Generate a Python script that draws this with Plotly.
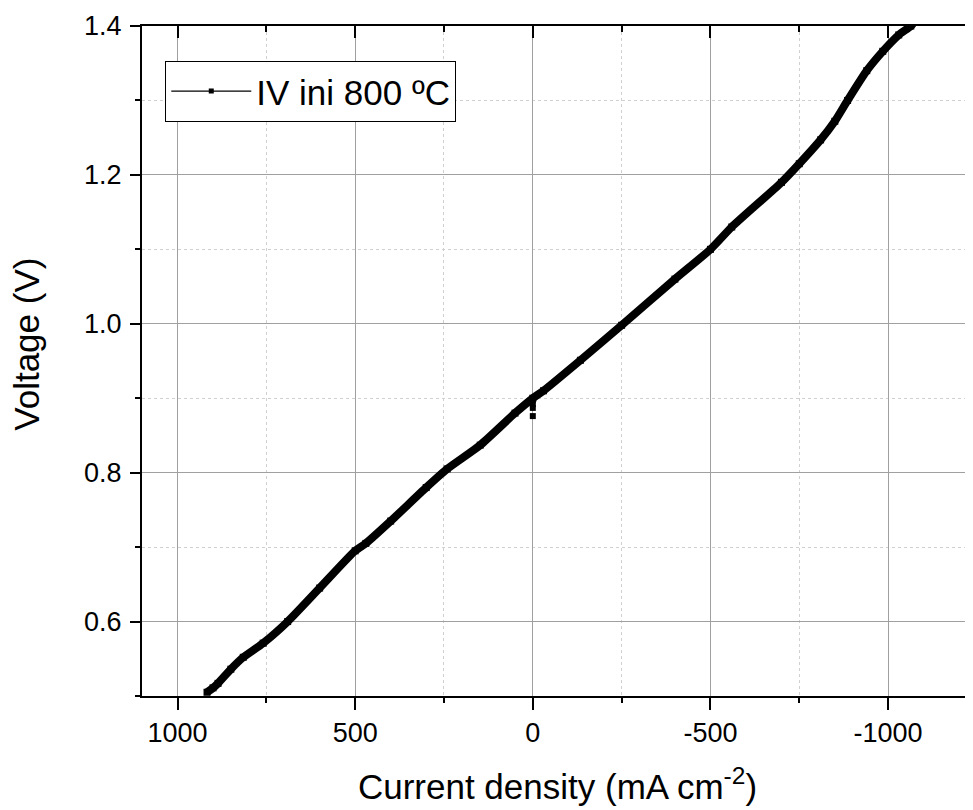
import plotly.graph_objects as go

# Current density (mA cm-2) and voltage (V)
current_density = [917, 900, 886, 850, 815, 759, 690, 600, 500, 470, 400, 300, 241,
                   148, 50, 0, -30, -134, -250, -400, -500, -560, -700, -750, -810,
                   -850, -886, -940, -985, -1030, -1064, -1085]
voltage = [0.505, 0.511, 0.517, 0.536, 0.552, 0.571, 0.600, 0.645, 0.695, 0.705,
           0.735, 0.780, 0.805, 0.837, 0.880, 0.900, 0.910, 0.951, 0.998, 1.060,
           1.100, 1.130, 1.190, 1.215, 1.247, 1.272, 1.300, 1.340, 1.366, 1.388,
           1.400, 1.412]

# open-circuit points recorded at zero current
ocv_current = [0, 0, 0, 0]
ocv_voltage = [0.897, 0.892, 0.887, 0.876]

series_name = "IV ini 800 ºC"
x_title = "Current density (mA cm<sup>-2</sup>)"
y_title = "Voltage (V)"
x_ticks = [1000, 500, 0, -500, -1000]
y_ticks = [0.6, 0.8, 1.0, 1.2, 1.4]

FONT = "Arial, Liberation Sans, sans-serif"
X_RANGE = [1100, -1239]
Y_RANGE = [0.5, 1.4]

fig = go.Figure()
fig.add_trace(go.Scatter(
    x=current_density, y=voltage, mode="lines+markers",
    line=dict(color="black", width=8, shape="spline", smoothing=0.6),
    marker=dict(symbol="square", size=7, color="black"),
    showlegend=False))
fig.add_trace(go.Scatter(
    x=ocv_current, y=ocv_voltage, mode="markers",
    marker=dict(symbol="square", size=6, color="black"),
    showlegend=False))
# legend entry (thin line with small square marker)
fig.add_trace(go.Scatter(
    x=[None], y=[None], mode="lines+markers", name=series_name,
    line=dict(color="black", width=1.3),
    marker=dict(symbol="square", size=5, color="black")))

grid_major = "#a0a0a0"
grid_minor = "#d0d0d0"

# page body has an 8px margin; figure is sized to fit the 973x810 window
fig.update_layout(
    width=965, height=802,
    margin=dict(l=134, r=0, t=18, b=114, autoexpand=False),
    plot_bgcolor="white", paper_bgcolor="white",
    font=dict(family=FONT, color="black", size=27),
    showlegend=True,
    legend=dict(x=0.028, y=0.948, xanchor="left", yanchor="top",
                bordercolor="black", borderwidth=1, bgcolor="white",
                font=dict(size=35, family=FONT), itemwidth=80,
                tracegroupgap=0),
    xaxis=dict(
        range=X_RANGE, tickvals=x_ticks, ticktext=[str(v) for v in x_ticks],
        ticks="outside", ticklen=12, tickwidth=2, tickcolor="black",
        showline=True, linewidth=2, linecolor="black", mirror=False,
        showgrid=True, gridcolor=grid_major, gridwidth=1, zeroline=False,
        automargin=False,
        tickfont=dict(size=27, family=FONT),
        title=dict(text=x_title, font=dict(size=35, family=FONT), standoff=27),
        minor=dict(dtick=250, tick0=0, ticks="outside", ticklen=5, tickwidth=1.5,
                   tickcolor="black", showgrid=True, gridcolor=grid_minor,
                   griddash="dot", gridwidth=1),
    ),
    xaxis2=dict(
        overlaying="x", side="top", range=X_RANGE, tickvals=x_ticks,
        showticklabels=False, ticks="inside", ticklen=12, tickwidth=2,
        tickcolor="black", showline=True, linewidth=2, linecolor="black",
        showgrid=False, zeroline=False, automargin=False,
        minor=dict(dtick=250, tick0=0, ticks="inside", ticklen=6, tickwidth=1.5,
                   tickcolor="black", showgrid=False),
    ),
    yaxis=dict(
        range=Y_RANGE, tickvals=y_ticks, ticktext=["%.1f" % v for v in y_ticks],
        ticks="outside", ticklen=10, tickwidth=2, tickcolor="black",
        showline=True, linewidth=2, linecolor="black", mirror=False,
        showgrid=True, gridcolor=grid_major, gridwidth=1, zeroline=False,
        automargin=False, ticklabelstandoff=3,
        tickfont=dict(size=27, family=FONT),
        minor=dict(dtick=0.1, tick0=0.5, ticks="outside", ticklen=5, tickwidth=1.5,
                   tickcolor="black", showgrid=True, gridcolor=grid_minor,
                   griddash="dot", gridwidth=1),
    ),
    yaxis2=dict(
        overlaying="y", side="right", range=Y_RANGE, tickvals=y_ticks,
        showticklabels=False, ticks="inside", ticklen=8, tickwidth=2,
        tickcolor="black", showline=True, linewidth=2, linecolor="black",
        showgrid=False, zeroline=False, automargin=False,
        minor=dict(dtick=0.1, tick0=0.5, ticks="inside", ticklen=4, tickwidth=1.5,
                   tickcolor="black", showgrid=False),
    ),
    annotations=[dict(
        text=y_title, textangle=-90, showarrow=False,
        xref="paper", yref="paper", x=-0.139, y=0.525,
        xanchor="center", yanchor="middle",
        font=dict(size=35, family=FONT, color="black"))],
)

# attach an invisible trace to the overlay axes so they are drawn
fig.add_trace(go.Scatter(x=[None], y=[None], xaxis="x2", yaxis="y2",
                         showlegend=False, hoverinfo="skip"))

fig.write_html("out.html")
